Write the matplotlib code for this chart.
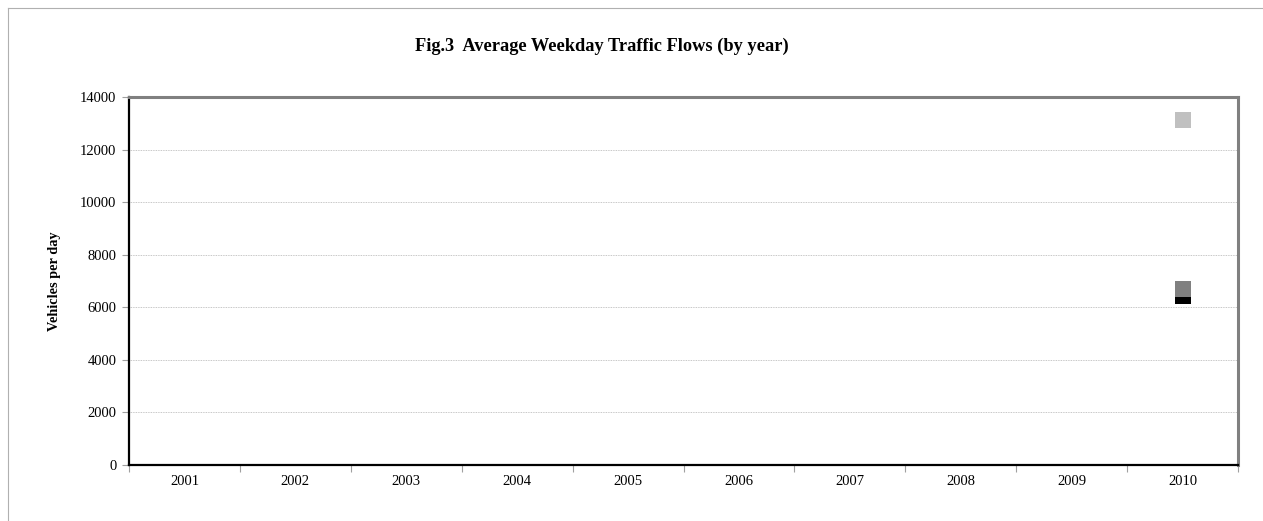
import numpy as np
import matplotlib.pyplot as plt
from matplotlib.lines import Line2D

plt.rcParams["font.family"] = ["Liberation Serif", "DejaVu Serif"]

years = ["2001", "2002", "2003", "2004", "2005", "2006", "2007", "2008", "2009", "2010"]
series_a = [np.nan] * 9 + [13120]   # light grey
series_b = [np.nan] * 9 + [6430]    # black
series_c = [np.nan] * 9 + [6710]    # dark grey

W, H = 1263, 521
fig = plt.figure(figsize=(W / 100, H / 100), dpi=100)
ax = fig.add_axes([129 / W, (H - 465) / H, (1238 - 129) / W, (465 - 97) / H])

x = np.arange(len(years))
ax.plot(x, series_a, "s", color="#c0c0c0", markersize=11.5, markeredgewidth=0, zorder=3)
ax.plot(x, series_b, "s", color="#000000", markersize=11.5, markeredgewidth=0, zorder=3)
ax.plot(x, series_c, "s", color="#808080", markersize=11.5, markeredgewidth=0, zorder=4)

ax.set_xlim(-0.5, len(years) - 0.5)
ax.set_ylim(0, 14000)
ax.set_yticks(np.arange(0, 14001, 2000))
ax.set_xticks(x)
ax.set_xticklabels(years)
ax.set_xticks(np.arange(-0.5, len(years), 1), minor=True)
ax.tick_params(axis="x", which="major", length=0, labelsize=10.5, pad=7)
ax.tick_params(axis="x", which="minor", length=5, color="#a0a0a0", width=0.8)
ax.tick_params(axis="y", length=5, color="#a0a0a0", width=0.8, labelsize=10.5, pad=4)
ax.yaxis.grid(True, linestyle=(0, (1, 1)), color="#b4b4b4", linewidth=0.6)
ax.set_axisbelow(True)

ax.spines["left"].set_color("black")
ax.spines["left"].set_linewidth(1.6)
ax.spines["bottom"].set_color("black")
ax.spines["bottom"].set_linewidth(1.6)
ax.spines["top"].set_color("#808080")
ax.spines["top"].set_linewidth(2.2)
ax.spines["right"].set_color("#808080")
ax.spines["right"].set_linewidth(2.2)

ax.set_ylabel("Vehicles per day", fontsize=10.3, fontweight="bold", labelpad=14)
fig.text(602 / W, 1 - 46 / H, "Fig.3  Average Weekday Traffic Flows (by year)",
         ha="center", va="center", fontsize=13.2, fontweight="bold")

# outer chart-area border (top and left visible)
fig.add_artist(Line2D([8 / W, 8 / W], [0, 1 - 8 / H], transform=fig.transFigure,
                      color="#b0b0b0", linewidth=0.8))
fig.add_artist(Line2D([8 / W, 1], [1 - 8 / H, 1 - 8 / H], transform=fig.transFigure,
                      color="#b0b0b0", linewidth=0.8))

fig.savefig("out.png", dpi=100)
